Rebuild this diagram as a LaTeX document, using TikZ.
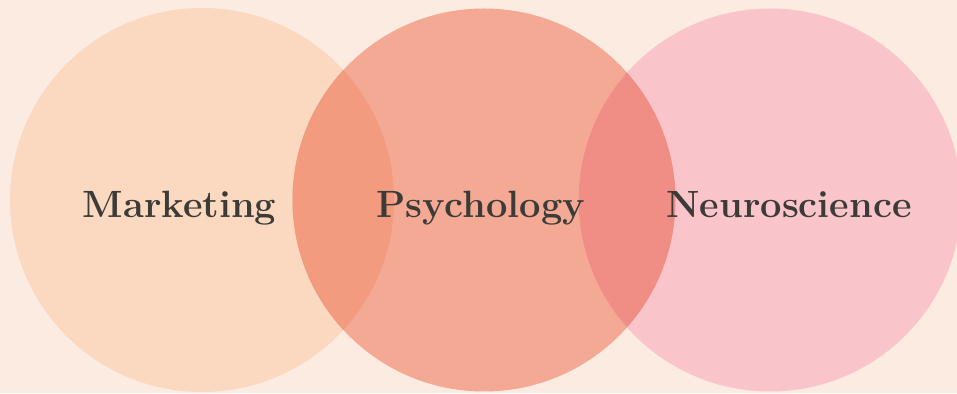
\documentclass[tikz,border=0pt]{standalone}
\definecolor{bgc}{HTML}{FCEBE1}
\definecolor{cleft}{HTML}{FBD9C1}
\definecolor{cmid}{HTML}{F3A994}
\definecolor{cright}{HTML}{F9C5CB}
\definecolor{olm}{HTML}{F29B7E}
\definecolor{omr}{HTML}{F08D85}
\definecolor{txt}{HTML}{3C3B37}
\begin{document}
\begin{tikzpicture}[x=1pt,y=1pt,
  lbl/.style={anchor=base,text=txt,font=\fontsize{38}{42}\selectfont\bfseries,inner sep=0pt}]
\fill[bgc] (0,0) rectangle (957,393);
\useasboundingbox (0,0) rectangle (957,393);
\begin{scope}
\clip (0,0) rectangle (957,393);
\fill[cleft] (202,193) circle (192);
\fill[cmid] (484,193) circle (191.5);
\fill[cright] (770,193) circle (191.5);
\begin{scope}
\clip (202,193) circle (192);
\fill[olm] (484,193) circle (191.5);
\end{scope}
\begin{scope}
\clip (484,193) circle (191.5);
\fill[omr] (770,193) circle (191.5);
\end{scope}
\end{scope}
\node[lbl] (mk) at (179.5,175) {Marketing};
\node[lbl] (ps) at (480.5,175) {Psychology};
\node[lbl] (ns) at (789,175) {Neuroscience};
\end{tikzpicture}
\end{document}
